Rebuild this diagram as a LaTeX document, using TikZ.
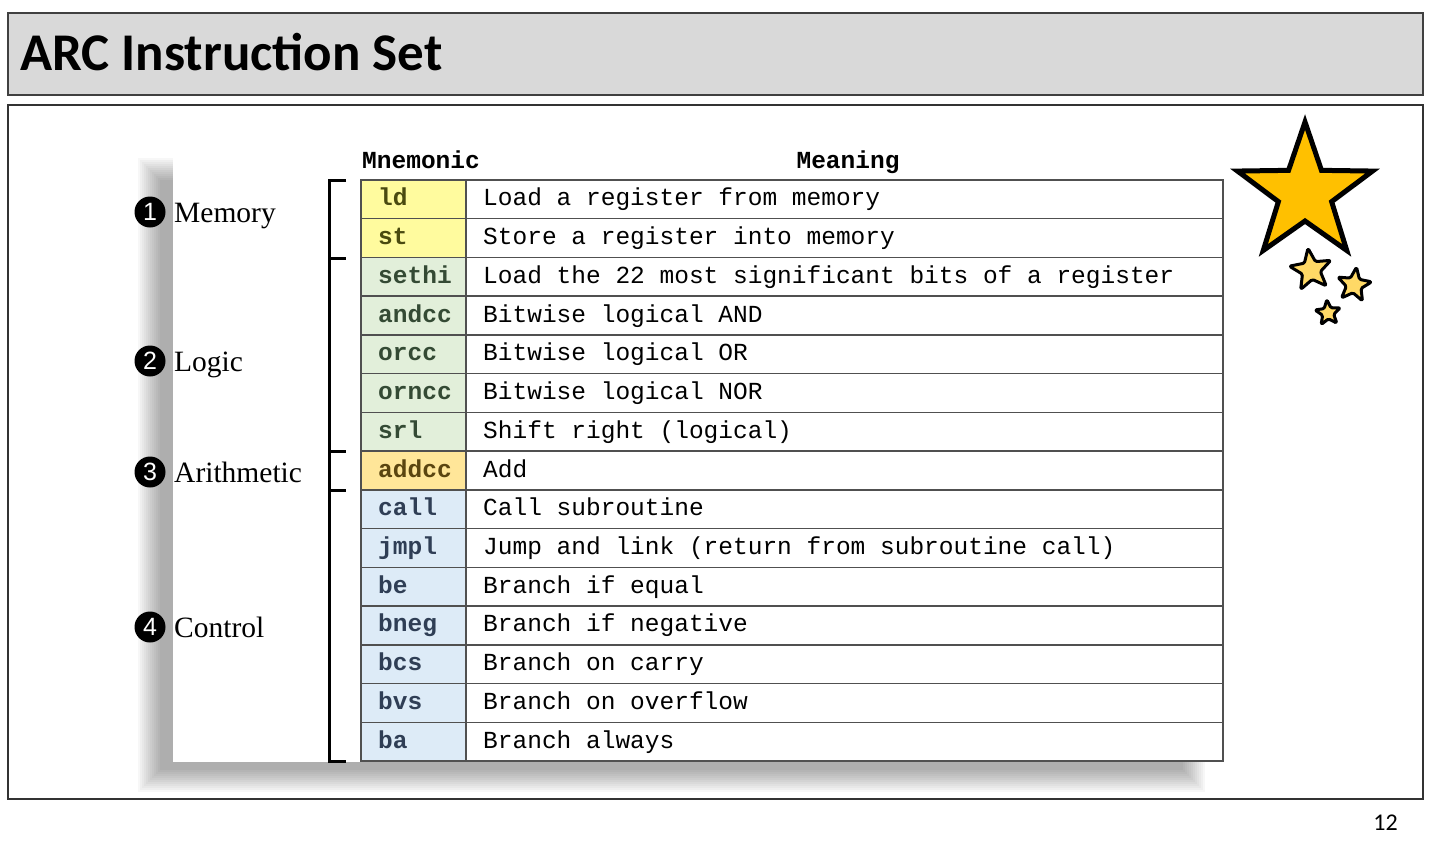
\documentclass[tikz,border=0pt]{standalone}
\usepackage{fontspec}
\setmainfont{Liberation Serif}
\newfontfamily\carl{Carlito}
\newfontfamily\lmono{Liberation Mono}
\newfontfamily\lsans{Liberation Sans}
\definecolor{gridc}{HTML}{505050}
\definecolor{Yf}{HTML}{FFFB9E}
\definecolor{Yt}{HTML}{4A4A10}
\definecolor{Gf}{HTML}{E2EFDA}
\definecolor{Gt}{HTML}{344A34}
\definecolor{Of}{HTML}{FFE699}
\definecolor{Ot}{HTML}{5A4510}
\definecolor{Bf}{HTML}{DDEBF7}
\definecolor{Bt}{HTML}{2F3E55}
\definecolor{titlegray}{HTML}{D9D9D9}
\definecolor{bigstarc}{HTML}{FFC000}
\definecolor{smallstarc}{HTML}{FFD966}
\begin{document}
\begin{tikzpicture}[x=1pt,y=-1pt,
  mcell/.style={draw=gridc,line width=1.5pt,minimum width=105pt,minimum height=38.733pt,inner sep=0pt},
  dcell/.style={draw=gridc,line width=1.5pt,minimum width=757pt,minimum height=38.733pt,inner sep=0pt},
  mtext/.style={inner sep=0pt,anchor=base west,font={\lmono\bfseries\fontsize{24.5}{26}\selectfont}},
  dtext/.style={inner sep=0pt,anchor=base west,font={\lmono\fontsize{24.5}{26}\selectfont}},
  hdr/.style={inner sep=0pt,font={\lmono\bfseries\fontsize{24.5}{26}\selectfont}},
  numcirc/.style={circle,fill=black,minimum size=31pt,inner sep=0pt,text=white,
    font={\lsans\fontsize{25}{25}\selectfont}},
  lab/.style={inner sep=0pt,anchor=base west,font={\fontsize{29.5}{30}\selectfont}},
  brk/.style={line width=3pt,line cap=butt},
  bigstar/.style={fill=bigstarc,draw=black,line width=5pt,line join=miter},
  smallstar/.style={fill=smallstarc,draw=black,line width=3pt,line join=round,rounded corners=1.5pt}
]
\useasboundingbox (0,0) rectangle (1455,846);
% title bar
\draw[fill=titlegray,draw=black!75,line width=1.2pt] (8,13) rectangle (1423,95);
\node[inner sep=0pt,anchor=base west,font={\carl\bfseries\fontsize{53}{60}\selectfont}] (title) at (20,70) {ARC Instruction Set};
% content frame
\draw[draw=black!80,line width=1.2pt] (8,105) rectangle (1423,799);
% shadow
\foreach \k in {0,...,11}{
  \fill[black,opacity=0.032] (138+2*\k,158+2*\k) rectangle (1205-2*\k,792-2*\k);
}
\fill[white] (173,140) rectangle (1226,762);
% headers
\node[hdr,anchor=base west] (hm) at (362,168) {Mnemonic};
\node[hdr,anchor=base] (hd) at (848,168) {Meaning};
% table
\foreach \m/\d/\f/\t [count=\i] in {
  ld/{Load a register from memory}/Yf/Yt,
  st/{Store a register into memory}/Yf/Yt,
  sethi/{Load the 22 most significant bits of a register}/Gf/Gt,
  andcc/{Bitwise logical AND}/Gf/Gt,
  orcc/{Bitwise logical OR}/Gf/Gt,
  orncc/{Bitwise logical NOR}/Gf/Gt,
  srl/{Shift right (logical)}/Gf/Gt,
  addcc/{Add}/Of/Ot,
  call/{Call subroutine}/Bf/Bt,
  jmpl/{Jump and link (return from subroutine call)}/Bf/Bt,
  be/{Branch if equal}/Bf/Bt,
  bneg/{Branch if negative}/Bf/Bt,
  bcs/{Branch on carry}/Bf/Bt,
  bvs/{Branch on overflow}/Bf/Bt,
  ba/{Branch always}/Bf/Bt}{
  \pgfmathsetmacro\yc{180+(\i-0.5)*38.733}
  \pgfmathsetmacro\yb{\yc+6.5}
  \node[mcell,fill=\f] (m\i) at (413.5,\yc) {};
  \node[dcell] (d\i) at (844.5,\yc) {};
  \node[mtext,text=\t] (mt\i) at (378,\yb) {\m};
  \node[dtext] (dt\i) at (483,\yb) {\d};
}
% brackets
\coordinate (bt) at (329,180);
\coordinate (bb) at (329,761);
\draw[brk] (346,180) -- (bt) -- (bb) -- (346,761);
\draw[brk] (329,258) -- (346,258);
\draw[brk] (329,451) -- (346,451);
\draw[brk] (329,490) -- (346,490);
% labels
\node[numcirc] (n1) at (150,212) {1};
\node[lab] (l1) at (174,222) {Memory};
\node[numcirc] (n2) at (150,361) {2};
\node[lab] (l2) at (174,371) {Logic};
\node[numcirc] (n3) at (150,472) {3};
\node[lab] (l3) at (174,482) {Arithmetic};
\node[numcirc] (n4) at (150,627) {4};
\node[lab] (l4) at (174,637) {Control};
% stars
\begin{scope}[shift={(1305,193)},yscale=-1]
  \draw[bigstar] (90:71) \foreach \k in {1,...,9}{ -- ({90+36*\k}:{71-(71-28)*mod(\k,2)}) } -- cycle;
\end{scope}
\begin{scope}[shift={(1311,270)},yscale=-1,rotate=-8]
  \draw[smallstar] (90:22) \foreach \k in {1,...,9}{ -- ({90+36*\k}:{22-(22-9.5)*mod(\k,2)}) } -- cycle;
\end{scope}
\begin{scope}[shift={(1354,285)},yscale=-1,rotate=8]
  \draw[smallstar] (90:18) \foreach \k in {1,...,9}{ -- ({90+36*\k}:{18-(18-7.8)*mod(\k,2)}) } -- cycle;
\end{scope}
\begin{scope}[shift={(1328,313)},yscale=-1,rotate=-5]
  \draw[smallstar] (90:13.5) \foreach \k in {1,...,9}{ -- ({90+36*\k}:{13.5-(13.5-5.8)*mod(\k,2)}) } -- cycle;
\end{scope}
% page number
\node[inner sep=0pt,anchor=base east,font={\carl\fontsize{24}{26}\selectfont}] (pg) at (1398,830) {12};
\end{tikzpicture}
\end{document}
